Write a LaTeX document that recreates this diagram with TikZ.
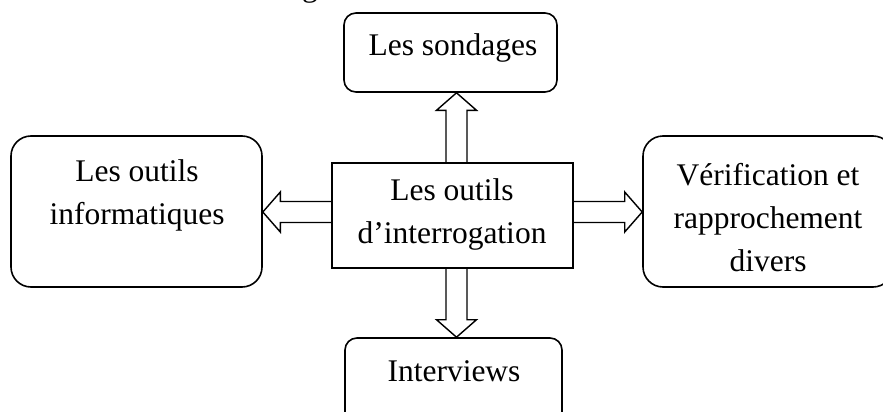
\documentclass[tikz,border=0pt]{standalone}
\usepackage{fontspec}
\setmainfont{Liberation Serif}
\usetikzlibrary{calc}

% hollow block arrow from #1 (open end) to #2 (tip); #3 prefixes a helper coordinate
\newcommand\blockarrow[3]{%
  \coordinate (#3h) at ($(#2)!17.5pt!(#1)$);
  \draw[hollowarrow]
    ($(#1)!10.5pt!90:(#2)$) -- ($(#3h)!10.5pt!90:(#2)$) -- ($(#3h)!20pt!90:(#2)$)
    -- (#2)
    -- ($(#3h)!20pt!-90:(#2)$) -- ($(#3h)!10.5pt!-90:(#2)$) -- ($(#1)!10.5pt!-90:(#2)$);
}

\begin{document}
\begin{tikzpicture}[x=1pt,y=-1pt,
  txt/.style={font=\fontsize{31.5}{43}\selectfont, align=center, inner sep=0pt},
  roundbox/.style={draw, line width=1.6pt, inner sep=0pt},
  hollowarrow/.style={draw, line width=1.4pt, line join=miter}]
  \useasboundingbox (0,0) rectangle (883,412);
  \clip (0,0) rectangle (883,412);

  % tail of the heading line above
  \node[txt, anchor=base west] (head) at (302,-3) {g};

  % boxes
  \node[roundbox, rounded corners=12pt, minimum width=213pt, minimum height=79pt] (t) at (450.5,52.5) {};
  \node[roundbox, rounded corners=20pt, minimum width=251pt, minimum height=151pt] (L) at (136.5,211.5) {};
  \node[roundbox, minimum width=241pt, minimum height=105pt] (c) at (452.5,215.5) {};
  \node[roundbox, rounded corners=20pt, minimum width=250pt, minimum height=151pt] (R) at (768,211.5) {};
  \node[roundbox, rounded corners=12pt, minimum width=217pt, minimum height=92pt] (b) at (453.5,384) {};

  % labels
  \node[txt] (tt) at (453,48) {Les sondages};
  \node[txt] (Lt) at (137,195.5) {Les outils\\informatiques};
  \node[txt] (ct) at (452,214) {Les outils\\d’interrogation};
  \node[txt] (Rt) at (768,217.5) {Vérification et\\rapprochement\\divers};
  \node[txt] (bt) at (454,371) {Interviews};

  % arrow axes
  \coordinate (vx) at (456.5,0);
  \coordinate (hy) at (0,212);
  \coordinate (us) at (c.north -| vx);
  \coordinate (ue) at (t.south -| vx);
  \coordinate (ds) at (c.south -| vx);
  \coordinate (de) at (b.north -| vx);
  \coordinate (ls) at (c.west |- hy);
  \coordinate (le) at (L.east |- hy);
  \coordinate (rs) at (c.east |- hy);
  \coordinate (re) at (R.west |- hy);

  \blockarrow{us}{ue}{u}
  \blockarrow{ds}{de}{d}
  \blockarrow{ls}{le}{l}
  \blockarrow{rs}{re}{r}
\end{tikzpicture}
\end{document}
